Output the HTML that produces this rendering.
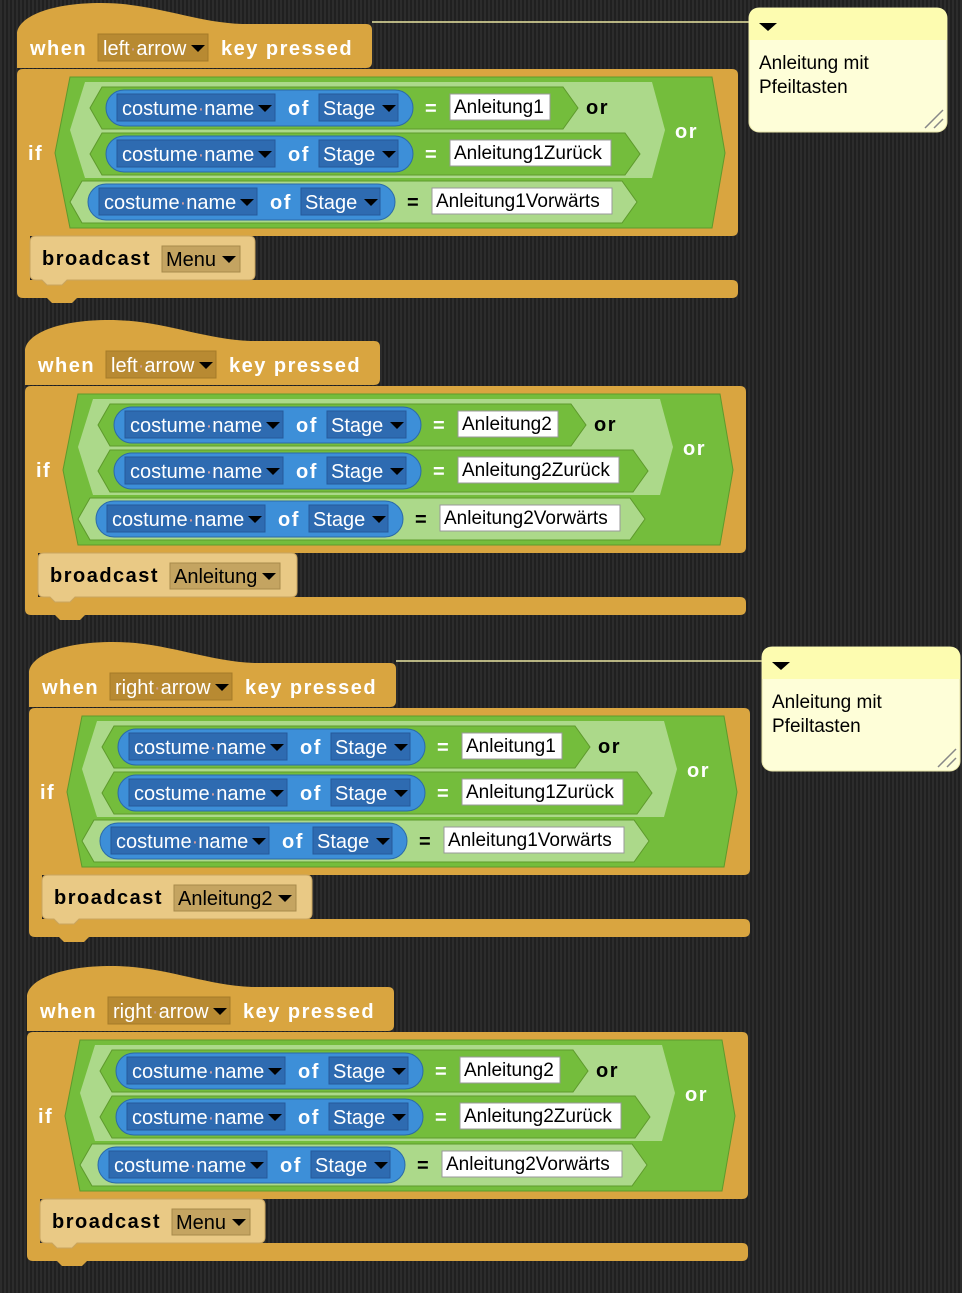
<!DOCTYPE html>
<html><head><meta charset="utf-8"><style>
html,body{margin:0;padding:0;background:#262626;}
body{width:962px;height:1293px;overflow:hidden;background:repeating-linear-gradient(90deg,#2c2c2c 0 2px,#202020 2px 4px);}
svg{position:absolute;left:0;top:0;}
text{font-family:"Liberation Sans",sans-serif;font-size:20px;}
.b{font-weight:bold;letter-spacing:1.5px;}
.sl{font-size:19px;}
</style></head><body>
<svg id="s" width="962" height="1293" xmlns="http://www.w3.org/2000/svg"></svg>
<script>
var G='#d9a540',GD='#b88a32',GL='#e9c985',GLD='#c4a461';
var GR='#74bd3c',GRL='#acd98a',BL='#3d8fd8',BLD='#2e6bb1';
function tri(x,y,c){return '<polygon points="'+x+','+y+' '+(x+14)+','+y+' '+(x+7)+','+(y+7)+'" fill="'+(c||'#000')+'"/>';}
function cn(x,y){return '<text x="'+x+'" y="'+y+'" fill="#fff">costume<tspan fill="#d49a9a">·</tspan>name</text>';}
function row(y,x0,bx,slotw,slotText,eqc,green,rightPt){
 var s='';var h=42,m=y+h/2;
 s+='<polygon points="'+x0+','+m+' '+(x0+12)+','+y+' '+(rightPt-15)+','+y+' '+rightPt+','+m+' '+(rightPt-15)+','+(y+h)+' '+(x0+12)+','+(y+h)+'" fill="'+green+'" stroke="#5e9a2c" stroke-width="1"/>';
 var by=y+3;
 s+='<rect x="'+bx+'" y="'+by+'" width="307" height="36" rx="18" fill="'+BL+'" stroke="#2b6aa8"/>';
 s+='<rect x="'+(bx+11)+'" y="'+(by+4)+'" width="158" height="27" fill="'+BLD+'" stroke="#25589a"/>';
 s+=cn(bx+16,by+25)+tri(bx+152,by+15);
 s+='<text class="b" x="'+(bx+182)+'" y="'+(by+25)+'" fill="#fff">of</text>';
 s+='<rect x="'+(bx+213)+'" y="'+(by+4)+'" width="79" height="27" fill="'+BLD+'" stroke="#25589a"/>';
 s+='<text x="'+(bx+217)+'" y="'+(by+25)+'" fill="#fff">Stage</text>'+tri(bx+276,by+15);
 var ex=bx+319;
 s+='<text class="b" x="'+ex+'" y="'+(by+25)+'" fill="'+eqc+'">=</text>';
 s+='<rect x="'+(ex+25)+'" y="'+(by+4)+'" width="'+slotw+'" height="26" fill="#fff" stroke="#999"/>';
 s+='<text class="sl" x="'+(ex+29)+'" y="'+(by+23)+'" fill="#000">'+slotText+'</text>';
 return s;
}
function script(dx,dy,key,hatW,bcText,bcW,bcDd,n,keyDdW){
 var s='<g transform="translate('+dx+','+dy+')">';
 s+='<path d="M0,68 V34 C0,20 25,4 80,3 C135,2 175,22 225,24 H'+(hatW-6)+' Q'+hatW+',24 '+hatW+',30 V62 Q'+hatW+',68 '+(hatW-6)+',68 Z" fill="'+G+'"/>';
 s+='<text class="b" x="13" y="55" fill="#fff">when</text>';
 s+='<rect x="81" y="34" width="'+keyDdW+'" height="27" fill="'+GD+'" stroke="#a57a28"/>';
 s+='<text x="86" y="55" fill="#fff">'+key.replace(' ','<tspan fill="#c9a0a0">·</tspan>')+'</text>'+tri(81+keyDdW-17,45);
 s+='<text class="b" x="'+(81+keyDdW+13)+'" y="55" fill="#fff">key  pressed</text>';
 s+='<path d="M0,75 Q0,69 6,69 H715 Q721,69 721,75 V230 Q721,236 715,236 H13 V280 H715 Q721,280 721,286 V292 Q721,298 715,298 H60 L55,303 H35 L30,298 H6 Q0,298 0,292 Z" fill="'+G+'"/>';
 s+='<text class="b" x="11" y="160" fill="#fff">if</text>';
 s+='<polygon points="38,153 53,77 695,77 708,153 695,228 53,228" fill="'+GR+'" stroke="#5e9a2c"/>';
 s+='<polygon points="53,130 68,82 635,82 648,130 635,178 68,178" fill="'+GRL+'"/>';
 s+=row(87,73,89,100,'Anleitung'+n,'#fff',GR,561);
 s+='<text class="b" x="569" y="114" fill="#000">or</text>';
 s+=row(133,73,89,161,'Anleitung'+n+'Zurück','#fff',GR,623);
 s+=row(181,53,71,180,'Anleitung'+n+'Vorwärts','#000',GRL,620);
 s+='<text class="b" x="658" y="138" fill="#fff">or</text>';
 s+='<path d="M'+13+',242 Q13,236 19,236 H'+(13+bcW-6)+' Q'+(13+bcW)+',236 '+(13+bcW)+',242 V274 Q'+(13+bcW)+',280 '+(13+bcW-6)+',280 H50 L45,285 H30 L25,280 H19 Q13,280 13,274 Z" fill="'+GL+'" stroke="#c9a560"/>';
 s+='<text class="b" x="25" y="265" fill="#000">broadcast</text>';
 s+='<rect x="145" y="246" width="'+bcDd+'" height="26" fill="'+GLD+'" stroke="#a88a4c"/>';
 s+='<text x="149" y="266" fill="#000">'+bcText+'</text>'+tri(145+bcDd-18,256);
 s+='</g>';return s;
}
function comment(x,y,lx){
 var s='<line x1="'+lx+'" y1="'+(y+14)+'" x2="'+x+'" y2="'+(y+14)+'" stroke="#e8e4a0" stroke-width="1.5"/>';
 s+='<rect x="'+x+'" y="'+y+'" width="198" height="124" rx="10" fill="#fefed8" stroke="#e6e3a8"/>';
 s+='<path d="M'+x+','+(y+32)+' V'+(y+10)+' Q'+x+','+y+' '+(x+10)+','+y+' H'+(x+188)+' Q'+(x+198)+','+y+' '+(x+198)+','+(y+10)+' V'+(y+32)+' Z" fill="#fdfcb0"/>';
 s+='<polygon points="'+(x+10)+','+(y+15)+' '+(x+28)+','+(y+15)+' '+(x+19)+','+(y+23)+'" fill="#000"/>';
 s+='<text x="'+(x+10)+'" y="'+(y+61)+'" fill="#000" style="font-size:19px">Anleitung mit</text>';
 s+='<text x="'+(x+10)+'" y="'+(y+85)+'" fill="#000" style="font-size:19px">Pfeiltasten</text>';
 s+='<line x1="'+(x+176)+'" y1="'+(y+120)+'" x2="'+(x+194)+'" y2="'+(y+102)+'" stroke="#888" stroke-width="1.5"/>';
 s+='<line x1="'+(x+185)+'" y1="'+(y+120)+'" x2="'+(x+194)+'" y2="'+(y+111)+'" stroke="#888" stroke-width="1.5"/>';
 return s;
}
var h='';
h+=comment(749,8,372);
h+=comment(762,647,396);
h+=script(17,0,'left arrow',355,'Menu',225,78,'1',110);
h+=script(25,317,'left arrow',355,'Anleitung',259,110,'2',110);
h+=script(29,639,'right arrow',367,'Anleitung2',270,122,'1',122);
h+=script(27,963,'right arrow',367,'Menu',225,78,'2',122);
document.getElementById('s').innerHTML=h;
</script>
</body></html>
